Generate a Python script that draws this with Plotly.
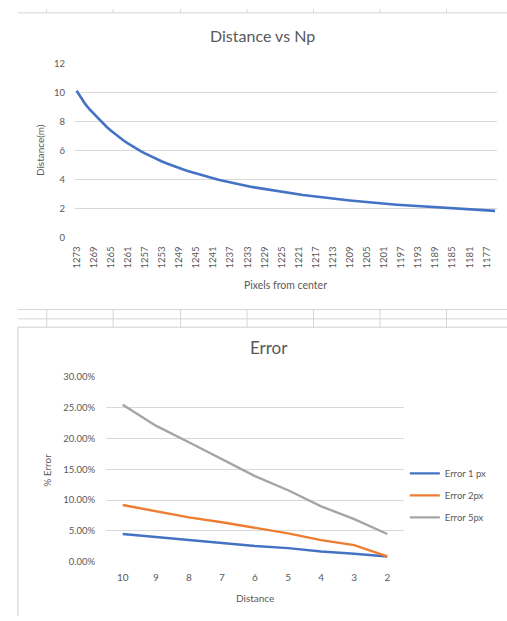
import plotly.graph_objects as go

# ---------------- data: top chart ----------------
pixels_from_center = list(range(1273, 1174, -1))  # 1273 ... 1175
distance_m = [
    10.15, 9.65, 9.24, 8.87, 8.55, 8.23, 7.93, 7.66, 7.40, 7.15,
    6.92, 6.71, 6.51, 6.32, 6.15, 5.98, 5.82, 5.67, 5.53, 5.39,
    5.26, 5.14, 5.02, 4.91, 4.80, 4.70, 4.60, 4.51, 4.42, 4.33,
    4.25, 4.17, 4.09, 4.01, 3.94, 3.87, 3.81, 3.74, 3.68, 3.62,
    3.56, 3.50, 3.45, 3.40, 3.34, 3.29, 3.24, 3.20, 3.15, 3.11,
    3.06, 3.02, 2.98, 2.94, 2.90, 2.86, 2.83, 2.79, 2.76, 2.72,
    2.69, 2.66, 2.63, 2.59, 2.56, 2.53, 2.51, 2.48, 2.45, 2.42,
    2.40, 2.37, 2.35, 2.32, 2.30, 2.27, 2.25, 2.23, 2.20, 2.18,
    2.16, 2.14, 2.12, 2.10, 2.08, 2.06, 2.04, 2.02, 2.00, 1.99,
    1.97, 1.95, 1.93, 1.92, 1.90, 1.88, 1.87, 1.85, 1.84,
]
top_x_tickvals = list(range(1273, 1176, -4))  # 1273, 1269, ..., 1177
top_y_tickvals = [0, 2, 4, 6, 8, 10, 12]

# ---------------- data: bottom chart ----------------
distance_cats = ["10", "9", "8", "7", "6", "5", "4", "3", "2"]
error_1px = [0.045, 0.040, 0.035, 0.030, 0.0255, 0.022, 0.0165, 0.013, 0.0085]
error_2px = [0.092, 0.082, 0.072, 0.064, 0.055, 0.046, 0.035, 0.027, 0.0085]
error_5px = [0.255, 0.221, 0.194, 0.166, 0.139, 0.116, 0.090, 0.069, 0.045]
series_names = ["Error 1 px", "Error 2px", "Error 5px"]

W, H = 507, 621
FONT = "Lato, 'Open Sans', sans-serif"
TXT = "#595959"
GRID = "#d9d9d9"
BLUE, ORANGE, GRAY = "#4472C4", "#ED7D31", "#A5A5A5"


def px(x):
    return x / W


def py(y):
    return 1 - y / H


fig = go.Figure()

fig.add_trace(go.Scatter(
    x=pixels_from_center, y=distance_m, mode="lines",
    line=dict(color=BLUE, width=2.6), showlegend=False,
    xaxis="x", yaxis="y", name="Distance"))

for name, vals, col in zip(series_names, [error_1px, error_2px, error_5px], [BLUE, ORANGE, GRAY]):
    fig.add_trace(go.Scatter(
        x=distance_cats, y=vals, mode="lines", name=name,
        line=dict(color=col, width=2.4), legendgroup=name,
        xaxis="x2", yaxis="y2"))

tickfont = dict(family=FONT, size=9.5, color=TXT)

fig.update_layout(
    width=W, height=H,
    margin=dict(l=0, r=0, t=0, b=0),
    paper_bgcolor="white", plot_bgcolor="white",
    font=dict(family=FONT, color=TXT),
    xaxis=dict(
        domain=[px(71.7), px(496.7)], anchor="y",
        range=[1273.35, 1174.6], tickmode="array", tickvals=top_x_tickvals,
        ticktext=[str(v) for v in top_x_tickvals], tickangle=-90,
        showgrid=False, zeroline=False, showline=False, ticks="",
        tickfont=dict(family=FONT, size=9.5, color=TXT), ticklabelstandoff=6),
    yaxis=dict(
        domain=[py(235.7), py(59)], anchor="x",
        range=[0, 12], tickmode="array", tickvals=top_y_tickvals,
        showgrid=True, gridcolor=GRID, gridwidth=1, zeroline=False,
        showline=False, ticks="", tickfont=tickfont, ticklabelstandoff=9),
    xaxis2=dict(
        domain=[px(103), px(403)], anchor="y2", type="category",
        range=[-0.5, 8.5], showgrid=False, zeroline=False, showline=False,
        ticks="", tickfont=dict(family=FONT, size=10, color=TXT),
        ticklabelstandoff=8),
    yaxis2=dict(
        domain=[py(565.7), py(377.7)], anchor="x2",
        range=[0, 0.30], dtick=0.05, tickformat=".2%",
        showgrid=True, gridcolor=GRID, gridwidth=1, zeroline=False,
        showline=False, ticks="", tickfont=dict(family=FONT, size=9.5, color=TXT),
        ticklabelstandoff=10),
    legend=dict(
        x=px(404), y=py(461), xanchor="left", yanchor="top",
        font=dict(family=FONT, size=9.5, color=TXT),
        bgcolor="rgba(0,0,0,0)", tracegroupgap=3,
        itemwidth=30),
    showlegend=True,
)

annotations = [
    dict(text="Distance vs Np", x=px(261), y=py(30), font=dict(size=16)),
    dict(text="Distance(m)", x=px(37), y=py(147), textangle=-90, font=dict(size=10)),
    dict(text="Pixels from center", x=px(284), y=py(284), font=dict(size=10.5)),
    dict(text="Error", x=px(267), y=py(348), font=dict(size=17)),
    dict(text="% Error", x=px(42.5), y=py(473), textangle=-90, font=dict(size=10)),
    dict(text="Distance", x=px(253), y=py(603), font=dict(size=10)),
]
for a in annotations:
    a.update(xref="paper", yref="paper", showarrow=False,
             xanchor="center", yanchor="middle")
    a["font"].update(family=FONT, color=TXT)
fig.update_layout(annotations=annotations)

# spreadsheet / chart-frame decoration
LINE = "#d6d6d6"
shapes = []


def hline(y, x0, x1, color=LINE, w=1):
    shapes.append(dict(type="line", xref="paper", yref="paper",
                       x0=px(x0), x1=px(x1), y0=py(y), y1=py(y),
                       line=dict(color=color, width=w)))


def vline(x, y0, y1, color=LINE, w=1):
    shapes.append(dict(type="line", xref="paper", yref="paper",
                       x0=px(x), x1=px(x), y0=py(y0), y1=py(y1),
                       line=dict(color=color, width=w)))


hline(7, 14, 507)
hline(309, 14, 507)
for cx in [43, 110, 178, 245, 312, 379, 446]:
    vline(cx, 3, 7)
    vline(cx, 309, 327)
hline(318.5, 14, 507)
hline(327, 14, 507, color="#cfcfcf")
vline(14, 327, 621, color="#cfcfcf")

fig.update_layout(shapes=shapes)

fig.write_html(
    "out.html",
    config={"displayModeBar": False},
    post_script="document.body.style.margin='0';document.body.style.overflow='hidden';",
)
